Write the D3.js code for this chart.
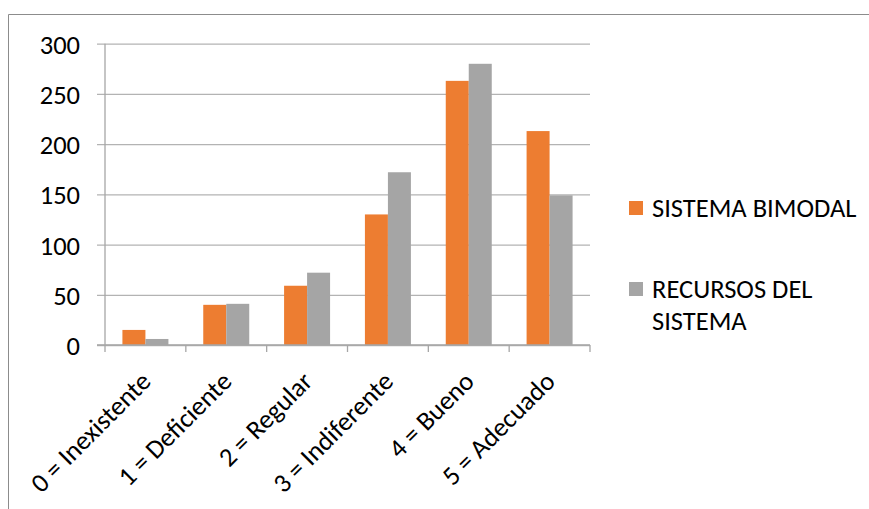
<!DOCTYPE html>
<html><head><meta charset="utf-8">
<script src="https://cdn.jsdelivr.net/npm/d3@7"></script>
<style>
html,body{margin:0;padding:0;background:#fff;}
svg text{font-family:"Carlito","Lato","Open Sans",sans-serif;fill:#000;}
</style></head>
<body><svg id="c" width="869" height="509"></svg>
<script>
const categories = ["0 = Inexistente","1 = Deficiente","2 = Regular","3 = Indiferente","4 = Bueno","5 = Adecuado"];
const seriesNames = ["SISTEMA BIMODAL","RECURSOS DEL SISTEMA"];
const sistemaBimodal = [15, 40, 59, 130, 263, 213];
const recursosSistema = [6, 41, 72, 172, 280, 149];
const yTicks = [0, 50, 100, 150, 200, 250, 300];
const colors = ["#ED7D31", "#A5A5A5"];

const svg = d3.select("#c");
const fs = 26.5;

// chart frame (cropped)
svg.append("path").attr("d","M8.5,509 L8.5,14.5 L869,14.5").attr("fill","none").attr("stroke","#8c8c8c").attr("stroke-width",1);

const x = d3.scaleBand().domain(categories).range([105,590]).padding(0);
const inner = d3.scaleBand().domain(seriesNames).range([x.bandwidth()*0.2155, x.bandwidth()*0.7845]).padding(0);
const y = d3.scaleLinear().domain([0,300]).range([345,43.7]);

// gridlines + y labels
const yAxis = d3.axisLeft(y).tickValues(yTicks).tickSize(-(590-97)).tickPadding(0).tickFormat(d3.format("d"));
const gy = svg.append("g").attr("transform","translate(97,0)").call(yAxis);
gy.select(".domain").remove();
gy.selectAll(".tick line").attr("stroke","#b3b3b3").attr("stroke-width",1.3);
gy.selectAll(".tick text").attr("x",-17).attr("dy","0.36em").attr("font-size",fs+"px").attr("fill","#000").style("font-family",'"Carlito","Lato","Open Sans",sans-serif');

// bars
const data = categories.map((c,i)=>({cat:c, vals:[sistemaBimodal[i], recursosSistema[i]]}));
const groups = svg.append("g").selectAll("g").data(data).join("g").attr("transform",d=>`translate(${x(d.cat)},0)`);
groups.selectAll("rect").data(d=>d.vals.map((v,j)=>({v, s:seriesNames[j], j}))).join("rect")
  .attr("x",d=>inner(d.s)).attr("width",inner.bandwidth())
  .attr("y",d=>y(d.v)).attr("height",d=>y(0)-y(d.v))
  .attr("fill",d=>colors[d.j]);

// y axis line
svg.append("line").attr("x1",105).attr("x2",105).attr("y1",y(300)).attr("y2",y(0)).attr("stroke","#a6a6a6").attr("stroke-width",1.3);

// x axis
const gx = svg.append("g").attr("transform",`translate(0,${y(0)})`);
gx.append("line").attr("x1",97).attr("x2",590).attr("stroke","#a6a6a6").attr("stroke-width",1.3);
const bounds = categories.map(c=>x(c)).concat([x(categories[categories.length-1])+x.bandwidth()]);
gx.selectAll("line.tk").data(bounds).join("line").attr("class","tk")
  .attr("x1",d=>d).attr("x2",d=>d).attr("y1",0).attr("y2",7).attr("stroke","#a6a6a6").attr("stroke-width",1.3);
gx.selectAll("text").data(categories).join("text")
  .attr("text-anchor","end").attr("font-size",fs+"px")
  .attr("transform",d=>`translate(${x(d)+x.bandwidth()/2+7},38) rotate(-45)`)
  .text(d=>d);

// legend
const legend = svg.append("g");
const legY = [217, 298];
legend.selectAll("rect").data(seriesNames).join("rect")
  .attr("x",629).attr("y",(d,i)=>legY[i]-16).attr("width",14).attr("height",14).attr("fill",(d,i)=>colors[i]);
legend.append("text").attr("x",652).attr("y",legY[0]).attr("font-size",fs+"px").text("SISTEMA BIMODAL");
const t2 = legend.append("text").attr("x",652).attr("y",legY[1]).attr("font-size",fs+"px");
t2.append("tspan").attr("x",652).text("RECURSOS DEL");
t2.append("tspan").attr("x",652).attr("dy",31.5).text("SISTEMA");
</script></body></html>
